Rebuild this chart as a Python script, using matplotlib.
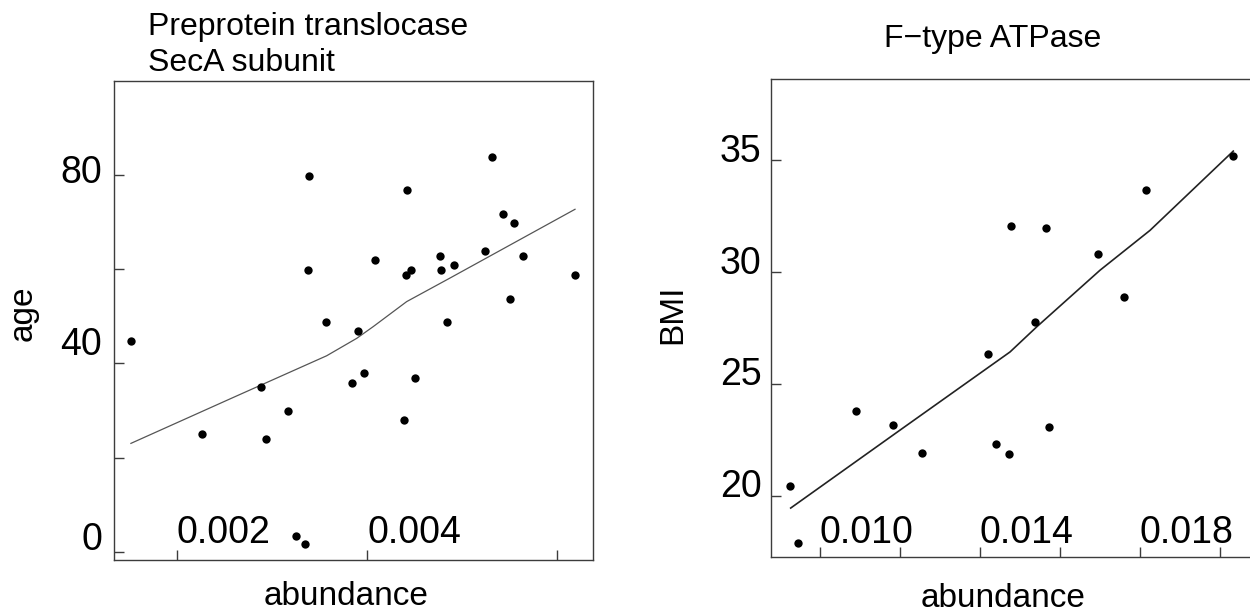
import matplotlib
matplotlib.use('Agg')
import matplotlib.pyplot as plt

plt.rcParams['font.family'] = ['Liberation Sans', 'DejaVu Sans']

# left panel: Preprotein translocase SecA subunit, abundance vs age
seca_abund = [0.001523, 0.002271, 0.002883, 0.002941, 0.003166, 0.003254, 0.003348,
              0.003383, 0.003390, 0.003566, 0.003846, 0.003909, 0.003965, 0.004084,
              0.004388, 0.004407, 0.004420, 0.004459, 0.004504, 0.004764, 0.004778,
              0.004838, 0.004911, 0.005243, 0.005317, 0.005426, 0.005500, 0.005542,
              0.005640, 0.006183]
seca_age = [44.8, 25.0, 35.0, 23.9, 29.9, 3.3, 1.6,
            59.8, 79.8, 48.7, 35.8, 46.9, 37.9, 61.9,
            27.9, 58.8, 76.7, 59.8, 36.9, 62.7, 59.8,
            48.7, 60.9, 63.8, 83.8, 71.7, 53.7, 69.8,
            62.7, 58.8]
# smoothed trend
seca_fit_x = [0.001519, 0.002578, 0.003576, 0.003892, 0.004066, 0.004417, 0.004872, 0.006186]
seca_fit_y = [23.0, 32.6, 41.6, 45.3, 47.8, 53.1, 58.1, 72.7]

# right panel: F-type ATPase, abundance vs BMI
atp_abund = [0.009265, 0.009458, 0.010915, 0.011825, 0.012570, 0.014208, 0.014420,
             0.014740, 0.014790, 0.015383, 0.015658, 0.015740, 0.016965, 0.017608,
             0.018150, 0.020340]
atp_bmi = [20.45, 17.88, 23.79, 23.18, 21.94, 26.35, 22.34,
           21.89, 32.06, 27.79, 31.96, 23.07, 30.79, 28.90,
           33.67, 35.18]
atp_fit_x = [0.009275, 0.012008, 0.014758, 0.015425, 0.017008, 0.018258, 0.020340]
atp_fit_y = [19.46, 22.94, 26.43, 27.55, 30.08, 31.86, 35.40]

seca_xticks = [0.002, 0.004, 0.006]
seca_xlabels = ['0.002', '0.004', '']
seca_yticks = [0, 20, 40, 60, 80]
seca_ylabels = ['0', '', '40', '', '80']

atp_xticks = [0.010, 0.012, 0.014, 0.016, 0.018, 0.020]
atp_xlabels = ['0.010', '', '0.014', '', '0.018', '']
atp_yticks = [20, 25, 30, 35]
atp_ylabels = ['20', '25', '30', '35']

W, H = 1250, 615
axis_col = '#3c3c3c'

fig = plt.figure(figsize=(W / 100, H / 100), dpi=100)
ax1 = fig.add_axes([113.5 / W, (H - 560) / H, (593 - 113.5) / W, (560 - 80.7) / H])
ax2 = fig.add_axes([771 / W, (H - 557) / H, 482 / W, (557 - 79.3) / H])


def style_panel(ax, xticks, xlabels, yticks, ylabels, ylab_dy, ylab_dx, xlab_up):
    for s in ax.spines.values():
        s.set_color(axis_col)
        s.set_linewidth(1.0)
    ax.set_xticks(xticks)
    ax.set_yticks(yticks)
    ax.set_xticklabels([])
    ax.set_yticklabels([])
    ax.tick_params(direction='in', length=7.5, width=1.0, color=axis_col)
    # x tick labels sit inside the box, left edge on the tick
    for t, lab in zip(xticks, xlabels):
        if lab:
            ax.annotate(lab, xy=(t, 0), xycoords=('data', 'axes fraction'),
                        xytext=(0, xlab_up), textcoords='offset pixels',
                        ha='left', va='baseline', fontsize=27)
    for t, lab, dy in zip(yticks, ylabels, ylab_dy):
        if lab:
            ax.annotate(lab, xy=(0, t), xycoords=('axes fraction', 'data'),
                        xytext=(ylab_dx, dy), textcoords='offset pixels',
                        ha='right', va='baseline', fontsize=27)


# left panel
ax1.plot(seca_fit_x, seca_fit_y, color='#555555', lw=0.9)
ax1.plot(seca_abund, seca_age, 'o', ms=6, color='black', mec='none')
ax1.set_xlim(0.001336, 0.006375)
ax1.set_ylim(-1.76, 100.0)
style_panel(ax1, seca_xticks, seca_xlabels, seca_yticks, seca_ylabels,
            [2, 0, 8, 0, -8], -11.5, 17)
ax1.annotate('abundance', xy=(0.5, 0), xycoords='axes fraction', xytext=(-7, -45),
             textcoords='offset pixels', ha='center', va='baseline', fontsize=24)
ax1.annotate('age', xy=(0, 0.5), xycoords='axes fraction', xytext=(-90.5, 7),
             textcoords='offset pixels', ha='center', va='center', rotation=90, fontsize=24)

# right panel
ax2.plot(atp_fit_x, atp_fit_y, color='#222222', lw=1.2)
ax2.plot(atp_abund, atp_bmi, 'o', ms=6, color='black', mec='none')
ax2.set_xlim(0.0087825, 0.020833)
ax2.set_ylim(17.274, 38.606)
style_panel(ax2, atp_xticks, atp_xlabels, atp_yticks, atp_ylabels,
            [-1.5, -1.5, -1.5, -1.5], -9.3, 14)
ax2.annotate('abundance', xy=(0.5, 0), xycoords='axes fraction', xytext=(-9, -49.7),
             textcoords='offset pixels', ha='center', va='baseline', fontsize=24)
ax2.annotate('BMI', xy=(0, 0.5), xycoords='axes fraction', xytext=(-98, 4),
             textcoords='offset pixels', ha='center', va='center', rotation=90, fontsize=24)

# titles (va='baseline' on a two-line text anchors the last line)
fig.text(148.3 / W, 1 - 71 / H, 'Preprotein translocase\nSecA subunit',
         ha='left', va='baseline', fontsize=23, linespacing=1.25)
fig.text(992.5 / W, 1 - 47.3 / H, 'F\u2212type ATPase', ha='center', va='baseline', fontsize=23)

fig.savefig('out.png', dpi=100)
